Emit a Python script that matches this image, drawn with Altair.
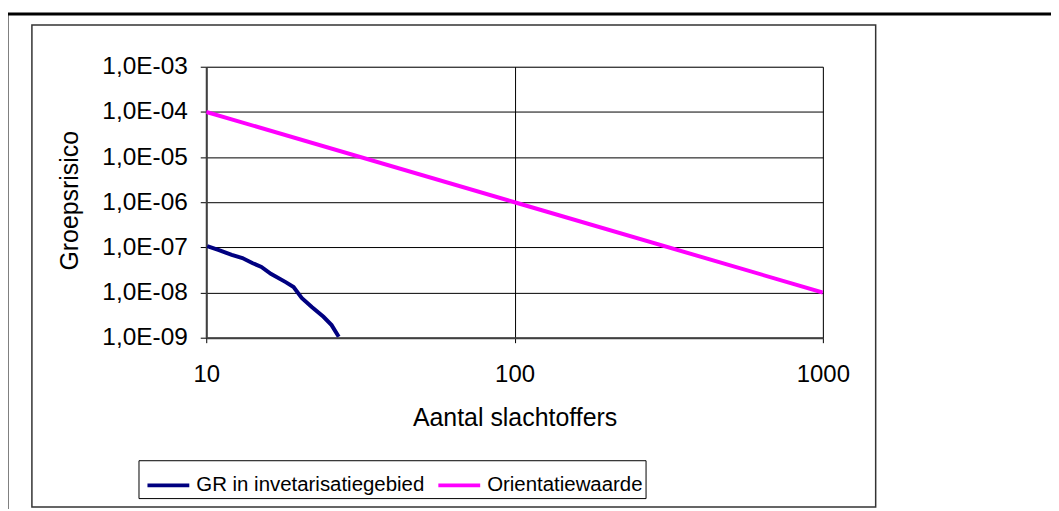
import altair as alt
import pandas as pd

# ---- data ----
gr_x = [10.07, 11.0, 12.1, 13.1, 14.1, 15.1, 16.2, 18.1, 19.2, 20.4, 22.0, 24.0, 25.5, 26.9]
gr_y = [1.07e-7, 8.7e-8, 6.8e-8, 5.8e-8, 4.5e-8, 3.7e-8, 2.6e-8, 1.7e-8, 1.33e-8, 7.6e-9, 4.8e-9, 2.9e-9, 1.9e-9, 1.05e-9]
ow_x = [10, 100, 1000]
ow_y = [1e-4, 1e-6, 1e-8]
series_names = ["GR in invetarisatiegebied", "Orientatiewaarde"]
series_colors = ["#000080", "#FF00FF"]
x_ticks = [10, 100, 1000]
y_ticks = [1e-9, 1e-8, 1e-7, 1e-6, 1e-5, 1e-4, 1e-3]

rows = [{"x": a, "y": b, "s": series_names[0], "o": i} for i, (a, b) in enumerate(zip(gr_x, gr_y))]
rows += [{"x": a, "y": b, "s": series_names[1], "o": i} for i, (a, b) in enumerate(zip(ow_x, ow_y))]
df = pd.DataFrame(rows)

FONT = "Liberation Sans"
W, H = 619, 272

one = alt.Data(values=[{}])

outer = alt.Chart(one).mark_rect(fill=None, stroke="black", strokeWidth=3).encode(
    x=alt.value(-200), x2=alt.value(870), y=alt.value(-53), y2=alt.value(470)
)
inner = alt.Chart(one).mark_rect(fill=None, stroke="#333333", strokeWidth=1.5).encode(
    x=alt.value(-175), x2=alt.value(672), y=alt.value(-42), y2=alt.value(442)
)

lines = alt.Chart(df).mark_line(strokeWidth=4, clip=True).encode(
    x=alt.X("x:Q", scale=alt.Scale(type="log", domain=[10, 1000], nice=False),
            axis=alt.Axis(values=x_ticks, title="Aantal slachtoffers", format="d",
                          grid=True, gridColor="black", gridWidth=1,
                          domainColor="#404040", domainWidth=2,
                          tickColor="black", tickSize=5,
                          labelFont=FONT, labelFontSize=24, labelColor="black",
                          labelPadding=20, labelFlush=False,
                          titleFont=FONT, titleFontSize=25, titleFontWeight="normal",
                          titleColor="black", titleY=80, titleBaseline="middle")),
    y=alt.Y("y:Q", scale=alt.Scale(type="log", domain=[1e-9, 1e-3], nice=False),
            axis=alt.Axis(values=y_ticks, title="Groepsrisico",
                          labelExpr="'1,0E-0' + round(-log(datum.value)/LN10)",
                          grid=True, gridColor="black", gridWidth=1,
                          domainColor="#404040", domainWidth=2,
                          tickColor="black", tickSize=6,
                          labelFont=FONT, labelFontSize=24.5, labelColor="black",
                          labelPadding=13, labelFlush=False,
                          titleFont=FONT, titleFontSize=25, titleFontWeight="normal",
                          titleColor="black", titleX=-137, titleY=134,
                          titleAngle=270, titleBaseline="middle", titleAlign="center")),
    color=alt.Color("s:N", scale=alt.Scale(domain=series_names, range=series_colors),
                    legend=alt.Legend(title=None, orient="none", legendX=-68, legendY=395,
                                      direction="horizontal", columns=2,
                                      symbolType="stroke", symbolSize=1764,
                                      symbolStrokeWidth=4, symbolOffset=5,
                                      labelFont=FONT, labelLimit=400,
                                      labelFontSize=20.5, labelColor="black",
                                      labelOffset=5, columnPadding=5,
                                      strokeColor="black", padding=2,
                                      fillColor="white")),
    order="o:Q",
    detail="s:N",
)

chart = alt.layer(outer, inner, lines).properties(
    width=W, height=H,
    padding={"left": 199, "top": 58, "right": 229, "bottom": 171},
    autosize=alt.AutoSizeParams(type="none"),
).configure_view(stroke="#808080", strokeWidth=2).configure(background="white")

chart.save("out.html", embed_options={"renderer": "svg", "actions": False})
